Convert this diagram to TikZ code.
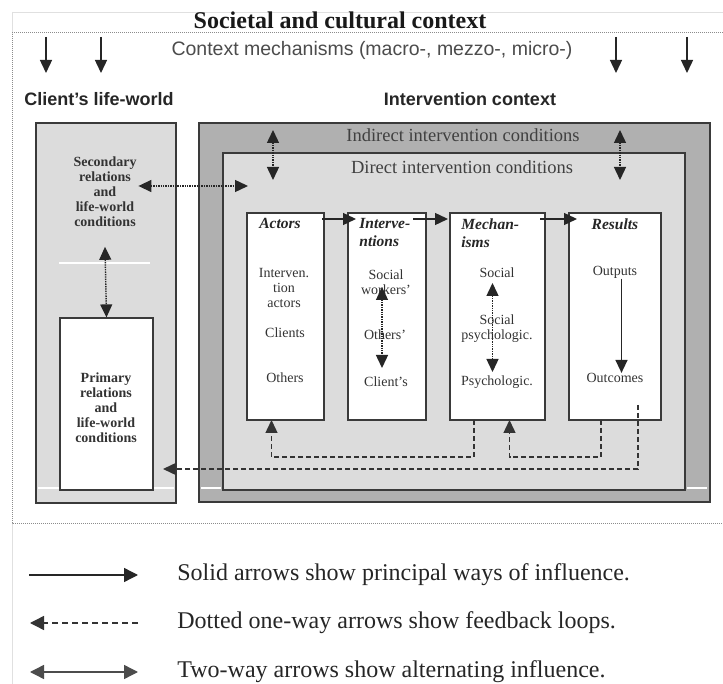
\documentclass[tikz,border=0pt]{standalone}
\usepackage{fontspec}
\setmainfont{Liberation Serif}
\setsansfont{Liberation Sans}
\usepackage{tikz}
\usetikzlibrary{arrows.meta}
\usetikzlibrary{positioning}
\definecolor{paleback}{HTML}{DCDCDC}
\definecolor{darkband}{HTML}{B0B0B0}
\definecolor{rimgray}{HTML}{3A3A3A}

\begin{document}
\begin{tikzpicture}[x=1pt, y=-1pt, >={Triangle[length=13pt,width=12pt]}, thick,
	rim/.style ={draw=rimgray, line width=2pt, inner sep=0pt, outer sep=0pt},
	box/.style ={rim, fill=white, minimum height=207pt},
	flow/.style ={->, line width=1.4pt, black!85},
	twoway/.style ={<->, densely dotted, line width=1.4pt, black!85},
	feedback/.style ={->, dash pattern=on 5pt off 3pt, line width=1.4pt, black!80},
	item/.style ={font=\fontsize{14}{15}\selectfont, text=black!80, align=center, inner sep=0pt},
	boxhead/.style ={font=\fontsize{15.5}{18}\selectfont\bfseries\itshape, text=black!85, align=left, inner sep=0pt},
	world/.style ={font=\fontsize{14}{15}\selectfont\bfseries, text=black!80, align=center, inner sep=1.5pt},
	legendtext/.style ={font=\fontsize{24}{26}\selectfont, text=black!85, anchor=west, inner sep=0pt}]
\useasboundingbox (0,0) rectangle (723,684);
\fill[white] (0,0) rectangle (723,684);
% societal frame
\draw[black!12] (12,12) -- (723,12);
\draw[black!12] (12,12) -- (12,33);
\draw[black!12] (12,523) -- (12,684);
\draw[black!45, densely dotted, line width=1pt] (723,33) -- (12,33) -- (12,523) -- (723,523);
\node[font=\fontsize{24}{26}\selectfont\bfseries, text=black!90] (societal) at (340,20) {Societal and cultural context};
\node[font=\sffamily\fontsize{19.5}{22}\selectfont, text=black!70] (mechs) at (372,50) {Context mechanisms (macro-, mezzo-, micro-)};
\foreach \x [count=\i] in {46,101,616,687}{
	\coordinate (up\i) at (\x,37);
	\coordinate (dn\i) at (\x,73);
	\draw[flow] (up\i) -- (dn\i);
}
\node[font=\sffamily\bfseries\fontsize{18}{20}\selectfont, text=black!85] (lifeworld) at (99,99) {Client's life-world};
\node[font=\sffamily\bfseries\fontsize{18}{20}\selectfont, text=black!85] (intctx) at (470,99) {Intervention context};

% client's life-world
\node[rim, fill=paleback, minimum width=140pt, minimum height=380pt] (client) at (106,313) {};
\draw[white, line width=2pt] (38,488) -- (174,488);
\draw[white, line width=2pt] (59,263) -- (150,263);
\node[world] (second) at (105,192) {Secondary\\relations\\and\\life-world\\conditions};
\node[draw=rimgray, line width=1.2pt, fill=white, minimum width=93pt, minimum height=172pt, inner sep=0pt] (primary) at (106.5,404) {};
\node[world] (primtext) at (106,408) {Primary\\relations\\and\\life-world\\conditions};
\draw[twoway] ([yshift=-18pt]second.south) -- (primary.north);

% intervention context
\node[rim, fill=darkband, minimum width=511pt, minimum height=379pt] (ictx) at (454,312.5) {};
\node[draw=rimgray, line width=1.6pt, fill=paleback, minimum width=462pt, minimum height=337pt] (direct) at (454,321.5) {};
\draw[white, line width=2pt] (201,488) -- (221,488);
\draw[white, line width=2pt] (687,488) -- (707,488);
\node[font=\fontsize{18.5}{20}\selectfont, text=black!75] (indirect) at (463,135) {Indirect intervention conditions};
\node[font=\fontsize{18.5}{20}\selectfont, text=black!75] (directlbl) at (462,167) {Direct intervention conditions};
\coordinate (ia1) at (273,130);
\coordinate (da1) at (273,180);
\coordinate (ia2) at (620,130);
\coordinate (da2) at (620,180);
\draw[twoway] (ia1) -- (da1);
\draw[twoway] (ia2) -- (da2);
\coordinate (dirin) at (248,186);
\draw[twoway] (second.east |- dirin) -- (dirin);

% the four blocks
\node[box, minimum width=77pt] (actors) at (285.5,316.5) {};
\node[box, minimum width=78pt, right=24pt of actors] (interv) {};
\node[box, minimum width=95pt, right=24pt of interv] (mech) {};
\node[box, minimum width=92pt, right=24pt of mech] (results) {};
\node[boxhead] (actorshd) [below right=5pt and 12pt of actors.north west] {Actors};
\node[boxhead] (intervhd) [below right=5pt and 11pt of interv.north west] {Interve-\\ntions};
\node[boxhead] (mechhd) [below right=5pt and 11pt of mech.north west] {Mechan-\\isms};
\node[boxhead] (resultshd) [below=5pt of results.north] {Results};
\draw[flow] ([shift={(-2,6)}]actors.north east) -- ([shift={(8,6)}]interv.north west);
\draw[flow] ([shift={(-13,6)}]interv.north east) -- ([shift={(-2,6)}]mech.north west);
\draw[flow] ([shift={(-5,6)}]mech.north east) -- ([shift={(8,6)}]results.north west);

\node[item] (intvact) at (284,288) {Interven.\\tion\\actors};
\node[item] (clients) at (285,333) {Clients};
\node[item] (others) at (285,378) {Others};
\node[item] (workers) at (386,282) {Social\\workers'};
\node[item] (othersp) at (385,335) {Others'};
\node[item] (clientp) at (386,382) {Client's};
\node[item] (msocial) at (497,273) {Social};
\node[item] (msocpsy) at (497,329) {Social\\psychologic.};
\node[item] (mpsy) at (497,382) {Psychologic.};
\node[item] (outputs) at (615,272) {Outputs};
\node[item] (outcomes) at (615,378) {Outcomes};
\coordinate (wtop) at (382,287);
\coordinate (wbot) at (382,368);
\draw[twoway] (wtop) -- (wbot);
\coordinate (mtop) at (492.5,283);
\coordinate (mbot) at (492.5,372);
\draw[twoway] (mtop) -- (mbot);
\draw[flow] ([xshift=6.5pt]outputs.south) -- ([xshift=6.5pt]outcomes.north);

% feedback loops
\draw[feedback] ([xshift=-23.5pt]mech.south) -- ++(0,37) -| ([xshift=-14pt]actors.south);
\draw[feedback] ([xshift=-14pt]results.south) -- ++(0,37) -| ([xshift=12pt]mech.south);
\coordinate (primin) at (163,469);
\draw[feedback] ([shift={(23,-15)}]results.south) -- ++(0,64) -- (primin);

% legend
\coordinate (l1a) at (29,575);
\coordinate (l1b) at (138,575);
\coordinate (l2a) at (30,623);
\coordinate (l2b) at (138,623);
\coordinate (l3a) at (30,672);
\coordinate (l3b) at (138,672);
\draw[flow, >={Triangle[length=14pt,width=14pt]}] (l1a) -- (l1b);
\draw[feedback, dash pattern=on 6pt off 4pt, >={Triangle[length=14pt,width=14pt]}] (l2b) -- (l2a);
\draw[<->, line width=1.4pt, black!70, >={Triangle[length=14pt,width=14pt]}] (l3a) -- (l3b);
\node[legendtext] (leg1) at (177,575) {Solid arrows show principal ways of influence.};
\node[legendtext] (leg2) at (177,623) {Dotted one-way arrows show feedback loops.};
\node[legendtext] (leg3) at (177,672) {Two-way arrows show alternating influence.};
\end{tikzpicture}
\end{document}
